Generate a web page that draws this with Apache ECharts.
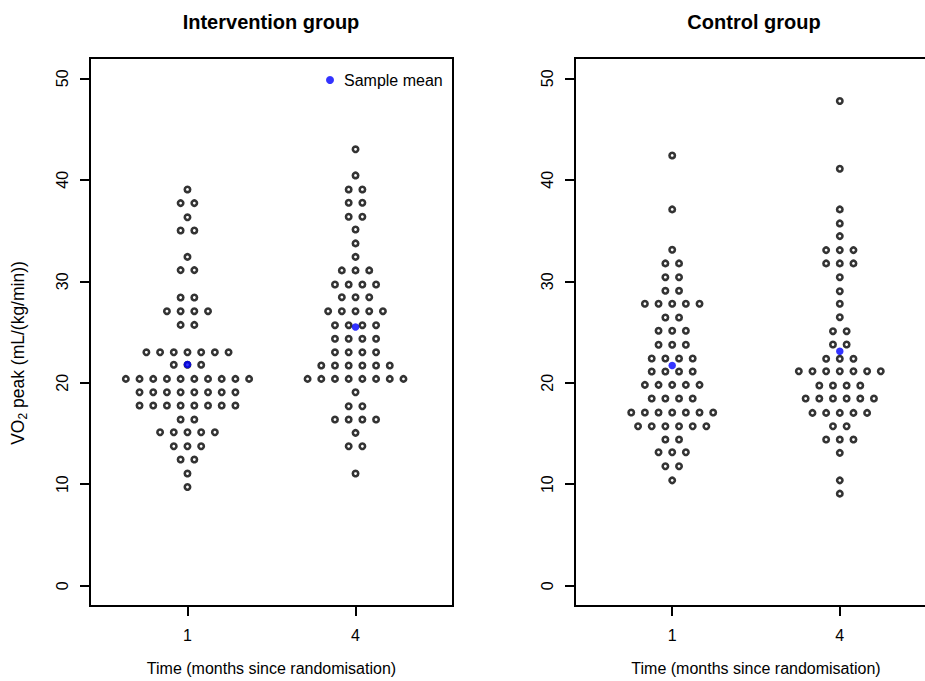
<!DOCTYPE html>
<html><head><meta charset="utf-8">
<script src="https://cdn.jsdelivr.net/npm/echarts@6/dist/echarts.min.js"></script>
<style>html,body{margin:0;padding:0;background:#fff}#c{width:925px;height:681px}</style>
</head><body><div id="c"></div>
<script>
// ---- data ----
const timeLabels = ['1', '4'];
const panelTitles = ['Intervention group', 'Control group'];
const yTicks = [0, 10, 20, 30, 40, 50];
const xTitle = 'Time (months since randomisation)';

// Intervention group, month 1: stacked value rows and number of dots in each row
const int1Vals   = [39.05, 37.7, 36.3, 35.0, 32.4, 31.1, 28.4, 27.05, 25.7, 23.0, 21.77, 20.38, 19.06, 17.75, 16.37, 15.12, 13.74, 12.43, 11.05, 9.73];
const int1Counts = [1, 2, 1, 2, 1, 2, 2, 4, 2, 7, 3, 10, 8, 8, 2, 5, 3, 2, 1, 1];
// Intervention group, month 4
const int4Vals   = [43.0, 40.43, 39.05, 37.74, 36.36, 35.1, 33.73, 32.4, 31.07, 29.68, 28.43, 27.05, 25.67, 24.33, 23.0, 21.7, 20.38, 19.06, 17.68, 16.37, 15.06, 13.74, 11.05];
const int4Counts = [1, 1, 2, 2, 2, 1, 1, 1, 3, 4, 3, 5, 4, 4, 4, 6, 8, 1, 2, 4, 1, 2, 1];
// Control group, month 1
const con1Vals   = [42.4, 37.08, 33.1, 31.76, 30.4, 29.06, 27.78, 26.43, 25.12, 23.74, 22.39, 21.1, 19.79, 18.44, 17.06, 15.71, 14.4, 13.15, 11.77, 10.38];
const con1Counts = [1, 1, 1, 2, 2, 2, 5, 2, 3, 3, 4, 4, 5, 4, 7, 6, 2, 3, 2, 1];
// Control group, month 4
const con4Vals   = [47.76, 41.09, 37.08, 35.7, 34.45, 33.07, 31.76, 30.4, 29.02, 27.78, 26.46, 25.08, 23.77, 22.36, 21.13, 19.72, 18.44, 17.03, 15.71, 14.4, 13.09, 10.38, 9.07];
const con4Counts = [1, 1, 1, 1, 1, 3, 3, 1, 1, 1, 1, 2, 2, 3, 7, 4, 6, 5, 2, 3, 1, 1, 1];
// Sample means (month 1, month 4)
const intMeans = [21.8, 25.5];
const conMeans = [21.7, 23.1];

// ---- layout ----
const STEP = 0.0815; // horizontal dot spacing in x-axis units
function swarm(x, vals, counts) {
  const pts = [];
  vals.forEach((v, i) => {
    const n = counts[i];
    for (let k = 0; k < n; k++) pts.push([x + (k - (n - 1) / 2) * STEP, v]);
  });
  return pts;
}
const FONT = 'Liberation Sans, Arial, sans-serif';
const grids = [
  { left: 90, top: 58, width: 363, height: 548 },
  { left: 575, top: 58, width: 362, height: 548 }
];

function xAxis(i) {
  return {
    gridIndex: i, type: 'value', min: 0.42, max: 2.58,
    axisLine: { show: false, onZero: false },
    splitLine: { show: false },
    axisTick: { show: true, customValues: [1, 2], length: 10, lineStyle: { color: '#000', width: 2 } },
    axisLabel: { customValues: [1, 2], formatter: v => timeLabels[Math.round(v) - 1], fontSize: 16, color: '#000', margin: 21, fontFamily: FONT },
    name: xTitle, nameLocation: 'middle', nameGap: 54,
    nameTextStyle: { fontSize: 16, color: '#000', fontFamily: FONT }
  };
}
function yAxis(i) {
  return {
    gridIndex: i, type: 'value', min: -2, max: 52,
    axisLine: { show: false, onZero: false },
    splitLine: { show: false },
    axisTick: { show: true, customValues: yTicks, length: 10, lineStyle: { color: '#000', width: 2 } },
    axisLabel: { customValues: yTicks, rotate: 90, fontSize: 16, color: '#000', margin: 20, fontFamily: FONT }
  };
}
const dotStyle = { color: '#fff', borderColor: '#000', borderWidth: 2.6 };
const meanStyle = { color: '#0000ff' };

const chart = echarts.init(document.getElementById('c'), null, { renderer: 'svg' });
chart.setOption({
  animation: false,
  backgroundColor: '#fff',
  grid: grids.map(g => Object.assign({ show: true, borderColor: '#000', borderWidth: 2, backgroundColor: 'transparent', outerBoundsMode: 'none', containLabel: false }, g)),
  xAxis: [xAxis(0), xAxis(1)],
  yAxis: [yAxis(0), yAxis(1)],
  legend: {
    data: ['Sample mean'], left: 321, top: 67, icon: 'circle', itemWidth: 8, itemHeight: 8,
    textStyle: { fontSize: 16, color: '#000', fontFamily: FONT, padding: [0, 0, 0, 5] }
  },
  graphic: [
    { type: 'text', x: 271, y: 22, style: { text: panelTitles[0], font: 'bold 20px ' + FONT, fill: '#000', align: 'center', verticalAlign: 'middle' } },
    { type: 'text', x: 754, y: 22, style: { text: panelTitles[1], font: 'bold 20px ' + FONT, fill: '#000', align: 'center', verticalAlign: 'middle' } },
    { type: 'text', x: 18, y: 353, rotation: Math.PI / 2,
      style: { text: '{a|VO}{s|2}{a| peak (mL/(kg/min))}', align: 'center', verticalAlign: 'middle', fill: '#000',
        rich: { a: { fontSize: 17.5, fontFamily: FONT, lineHeight: 22, fill: '#000' }, s: { fontSize: 12, fontFamily: FONT, lineHeight: 12, verticalAlign: 'bottom', fill: '#000' } } } }
  ],
  series: [
    { type: 'scatter', xAxisIndex: 0, yAxisIndex: 0, symbol: 'circle', symbolSize: 5.4, itemStyle: dotStyle, silent: true,
      data: swarm(1, int1Vals, int1Counts).concat(swarm(2, int4Vals, int4Counts)) },
    { type: 'scatter', name: 'Sample mean', xAxisIndex: 0, yAxisIndex: 0, symbol: 'circle', symbolSize: 7.5, itemStyle: meanStyle, z: 3, silent: true,
      data: intMeans.map((m, i) => [i + 1, m]) },
    { type: 'scatter', xAxisIndex: 1, yAxisIndex: 1, symbol: 'circle', symbolSize: 5.4, itemStyle: dotStyle, silent: true,
      data: swarm(1, con1Vals, con1Counts).concat(swarm(2, con4Vals, con4Counts)) },
    { type: 'scatter', name: 'Sample mean', xAxisIndex: 1, yAxisIndex: 1, symbol: 'circle', symbolSize: 7.5, itemStyle: meanStyle, z: 3, silent: true,
      data: conMeans.map((m, i) => [i + 1, m]) }
  ]
});
</script></body></html>
